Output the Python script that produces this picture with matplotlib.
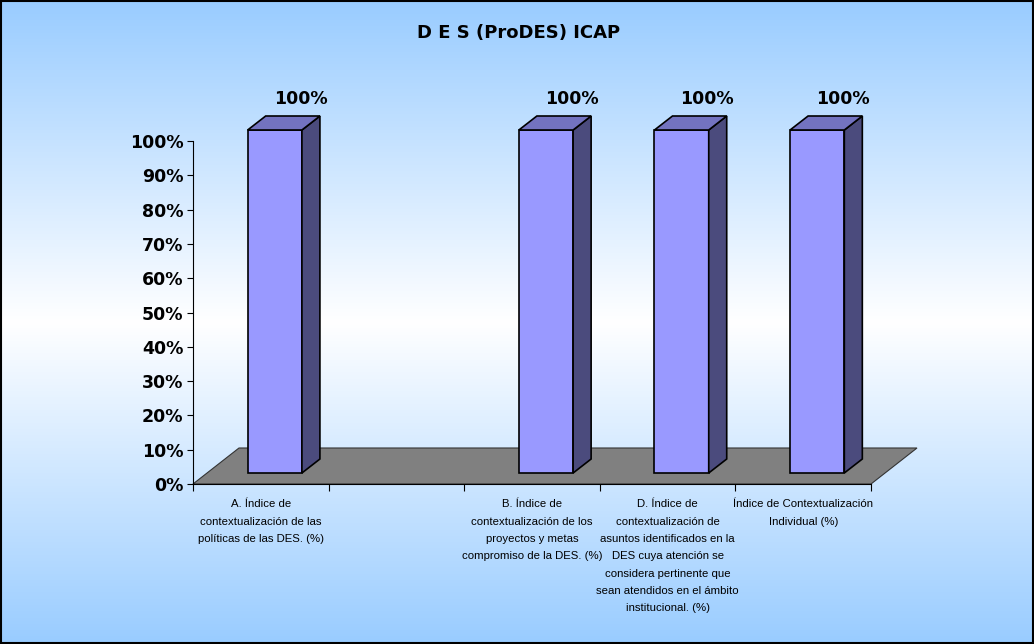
import matplotlib
matplotlib.use("Agg")
import matplotlib.pyplot as plt
from matplotlib.patches import Polygon, Rectangle
import numpy as np

# datos
categorias = [
    "A. Índice de\ncontextualización de las\npolíticas de las DES. (%)",
    "",
    "B. Índice de\ncontextualización de los\nproyectos y metas\ncompromiso de la DES. (%)",
    "D. Índice de\ncontextualización de\nasuntos identificados en la\nDES cuya atención se\nconsidera pertinente que\nsean atendidos en el ámbito\ninstitucional. (%)",
    "Índice de Contextualización\nIndividual (%)",
]
valores = [1.0, np.nan, 1.0, 1.0, 1.0]
etiquetas = ["100%", "", "100%", "100%", "100%"]
y_ticks = np.arange(0, 1.01, 0.1)
titulo = "D E S (ProDES) ICAP"

W, H = 1034, 644
fig = plt.figure(figsize=(W / 100, H / 100), dpi=100)

# fondo degradado (azul - blanco - azul)
bg = fig.add_axes([0, 0, 1, 1], zorder=-10)
t = np.linspace(0, 1, 256)
mix = np.abs(t - 0.5) * 2
azul = np.array([153, 204, 255]) / 255
blanco = np.array([1.0, 1.0, 1.0])
grad = (blanco[None, :] * (1 - mix[:, None]) + azul[None, :] * mix[:, None])
bg.imshow(grad[:, None, :], aspect="auto", extent=[0, 1, 0, 1])
bg.set_axis_off()
fig.add_artist(Rectangle((0.001, 0.001), 0.998, 0.997, transform=fig.transFigure,
                         fill=False, edgecolor="black", linewidth=1.5))

# area de trazado (plano frontal)
x0, x1, y0, y1 = 193, 871, 484, 141
ax = fig.add_axes([x0 / W, (H - y0) / H, (x1 - x0) / W, (y0 - y1) / H])
ax.patch.set_alpha(0)
n = len(categorias)
ax.set_xlim(0, n)
ax.set_ylim(0, 1)

px_x = (x1 - x0) / n
px_y = (y0 - y1)
dxf, dyf = 46 / px_x, 36 / px_y      # profundidad del piso
dxs, dys = 18 / px_x, 14 / px_y      # profundidad de las barras
dx0, dy0 = (dxf - dxs) / 2, (dyf - dys) / 2
ancho = 0.4

# piso
piso = Polygon([(0, 0), (n, 0), (n + dxf, dyf), (dxf, dyf)], closed=True,
               facecolor="#808080", edgecolor="#333333", linewidth=0.8,
               clip_on=False, zorder=1)
ax.add_patch(piso)

xc = np.arange(n) + 0.5 + dx0
for i, v in enumerate(valores):
    if np.isnan(v):
        continue
    xl, xr = xc[i] - ancho / 2, xc[i] + ancho / 2
    b, tp = dy0, dy0 + v
    ax.bar(xc[i], v, width=ancho, bottom=b, color="#9999FF",
           edgecolor="black", linewidth=1.2, clip_on=False, zorder=3)
    lado = Polygon([(xr, b), (xr + dxs, b + dys), (xr + dxs, tp + dys), (xr, tp)],
                   closed=True, facecolor="#4B4B7D", edgecolor="black",
                   linewidth=1.2, clip_on=False, zorder=3)
    tapa = Polygon([(xl, tp), (xr, tp), (xr + dxs, tp + dys), (xl + dxs, tp + dys)],
                   closed=True, facecolor="#7373C0", edgecolor="black",
                   linewidth=1.2, clip_on=False, zorder=3)
    ax.add_patch(lado)
    ax.add_patch(tapa)
    ax.text(xc[i] + 0.19, tp + dys + 0.05, etiquetas[i], ha="center", va="center",
            fontsize=12.5, fontweight="bold", family="DejaVu Sans", clip_on=False)

# ejes
for s in ["top", "right"]:
    ax.spines[s].set_visible(False)
ax.spines["left"].set_linewidth(0.8)
ax.spines["bottom"].set_linewidth(0.8)
ax.set_yticks(y_ticks)
ax.set_yticklabels([f"{int(round(v * 100))}%" for v in y_ticks],
                   fontsize=12.5, fontweight="bold", family="DejaVu Sans")
ax.tick_params(axis="y", length=4, width=0.8, pad=3)

ax.set_xticks(np.arange(n + 1), minor=True)
ax.set_xticks(np.arange(n) + 0.5)
ax.set_xticklabels(categorias, fontsize=8.2, family="Liberation Sans")
ax.tick_params(axis="x", which="major", length=0, pad=11)
ax.tick_params(axis="x", which="minor", length=5, width=0.8)
for lbl in ax.get_xticklabels():
    lbl.set_linespacing(1.92)

fig.text(519 / W, 1 - 33 / H, titulo, ha="center", va="center",
         fontsize=13, fontweight="bold", family="DejaVu Sans")

fig.savefig("out.png", dpi=100)
